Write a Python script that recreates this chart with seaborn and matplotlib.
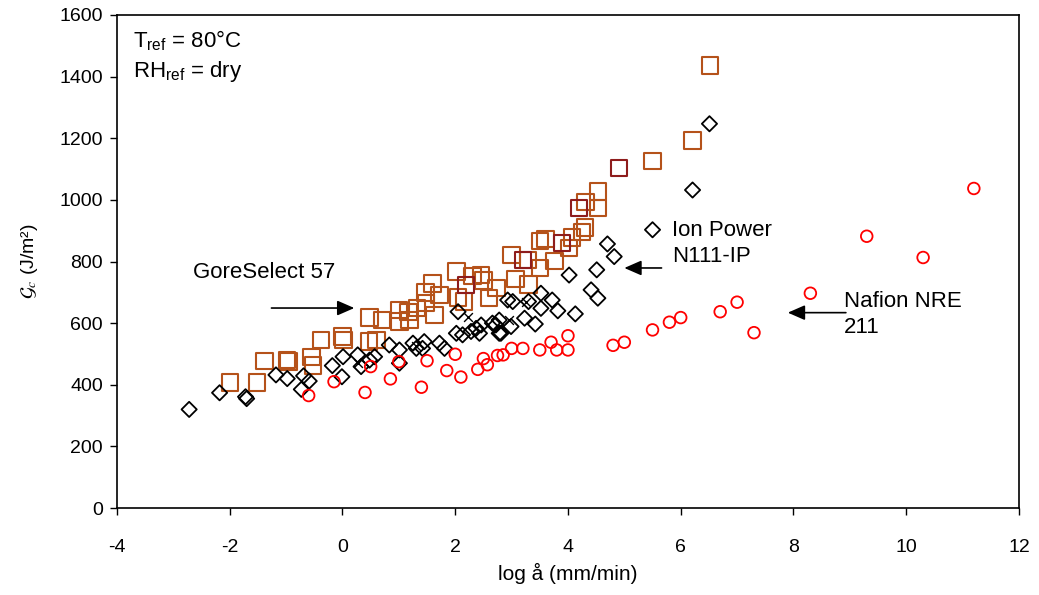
import matplotlib
matplotlib.use("Agg")
import matplotlib.pyplot as plt
import numpy as np
import pandas as pd
import seaborn as sns

# GoreSelect 57 (squares)
gore_x = [-2.0, -1.52, -1.38, -0.98, -0.96, -0.55, -0.52, -0.38, 0.0, 0.02, 0.48, 0.47, 0.6, 0.7,
          1.0, 1.01, 1.17, 1.19, 1.32, 1.47, 1.6, 1.72, 1.48, 1.63, 2.02, 2.05, 2.16, 2.31, 2.46,
          2.5, 2.6, 2.73, 3.0, 3.07, 3.29, 3.3, 3.5, 3.5, 3.6, 3.76, 4.02, 4.07, 4.25, 4.3, 4.31,
          4.53, 4.53, 5.5, 6.21, 6.52]
gore_y = [408, 408, 478, 481, 475, 490, 462, 545, 556, 545, 618, 540, 545, 610,
          643, 605, 637, 610, 650, 700, 729, 692, 665, 627, 767, 683, 670, 753, 756,
          738, 681, 714, 821, 743, 805, 726, 778, 866, 873, 801, 843, 878, 896, 911, 993,
          1027, 973, 1126, 1192, 1436]
gore_dark_x = [2.19, 3.2, 3.89, 4.2, 4.91]
gore_dark_y = [724, 805, 860, 973, 1103]

# Ion Power N111-IP (diamonds)
ion_x = [-2.72, -2.18, -1.72, -1.70, -1.18, -0.98, -0.69, -0.73, -0.59, -0.18, 0.01, -0.01,
         0.27, 0.33, 0.48, 0.57, 0.83, 1.01, 1.01, 1.25, 1.31, 1.45, 1.42, 1.72, 1.81, 2.02,
         2.05, 2.13, 2.28, 2.37, 2.43, 2.46, 2.66, 2.78, 2.78, 2.93, 2.72, 2.81, 2.99, 3.02,
         3.23, 3.30, 3.42, 3.52, 3.52, 3.72, 3.82, 4.02, 4.13, 4.41, 4.51, 4.53, 4.70, 4.82,
         5.50, 6.21, 6.51]
ion_y = [320, 374, 361, 355, 432, 420, 429, 385, 412, 462, 491, 426,
         497, 459, 480, 491, 529, 513, 470, 535, 518, 540, 518, 535, 518, 567,
         637, 562, 573, 583, 567, 594, 600, 567, 610, 675, 594, 567, 589, 670,
         616, 670, 597, 697, 648, 675, 640, 756, 630, 708, 773, 681, 857, 816,
         903, 1032, 1247]

# extra small crosses
cross_x = [0.27, 1.3, 2.22, 2.95, 3.25]
cross_y = [472, 527, 620, 610, 670]

# Nafion NRE 211 (circles)
naf_x = [-0.6, -0.15, 0.4, 0.5, 0.85, 1.0, 1.4, 1.5, 1.85, 2.0, 2.1, 2.4, 2.5, 2.57, 2.75,
         2.85, 3.0, 3.2, 3.5, 3.7, 3.8, 4.0, 4.0, 4.8, 5.0, 5.5, 5.8, 6.0, 6.7, 7.0, 7.3,
         8.3, 9.3, 10.3, 11.2]
naf_y = [365, 410, 375, 459, 419, 475, 392, 478, 446, 499, 425, 450, 485, 465, 495,
         497, 518, 518, 513, 538, 513, 559, 513, 528, 538, 578, 603, 618, 637, 668, 569,
         697, 882, 813, 1037]

sns.set_theme(style="ticks", rc={"axes.edgecolor": "black", "xtick.color": "black",
                                 "ytick.color": "black", "text.color": "black",
                                 "axes.labelcolor": "black"})
plt.rcParams["font.family"] = ["Liberation Sans", "DejaVu Sans"]
plt.rcParams["mathtext.fontset"] = "custom"
plt.rcParams["mathtext.rm"] = "Liberation Sans"
plt.rcParams["mathtext.it"] = "Liberation Sans:italic"
plt.rcParams["axes.unicode_minus"] = False

fig = plt.figure(figsize=(10.39, 5.95), dpi=100)
ax = fig.add_axes([0.1126, 0.1462, 0.8681, 0.8286])

sns.scatterplot(x=gore_x, y=gore_y, marker="s", s=140, facecolor="none",
                edgecolor="#B5521A", linewidth=1.5, ax=ax)
sns.scatterplot(x=gore_dark_x, y=gore_dark_y, marker="s", s=140, facecolor="none",
                edgecolor="#8E1C1C", linewidth=1.5, ax=ax)
sns.scatterplot(x=ion_x, y=ion_y, marker="D", s=60, facecolor="none",
                edgecolor="black", linewidth=1.3, ax=ax)
sns.scatterplot(x=cross_x, y=cross_y, marker="x", s=40, color="black",
                linewidth=1.0, ax=ax)
sns.scatterplot(x=naf_x, y=naf_y, marker="o", s=70, facecolor="none",
                edgecolor="#FF0000", linewidth=1.3, ax=ax)

ax.set_xlim(-4, 12)
ax.set_ylim(0, 1600)
ax.set_xticks(np.arange(-4, 13, 2))
ax.set_yticks(np.arange(0, 1601, 200))
ax.tick_params(labelsize=14, length=5, width=1, direction="out")
ax.tick_params(axis="x", pad=17)
ax.tick_params(axis="y", pad=5)
for sp in ax.spines.values():
    sp.set_visible(True)
    sp.set_linewidth(1.2)

ax.set_xlabel("log å (mm/min)", fontsize=15, labelpad=5)
ax.set_ylabel(r"$\mathcal{G}_c$ (J/m²)", fontsize=14, math_fontfamily="stix", labelpad=14)

ax.text(0.018, 0.935, r"T$_{\rm ref}$ = 80°C", transform=ax.transAxes, fontsize=16, va="baseline")
ax.text(0.018, 0.874, r"RH$_{\rm ref}$ = dry", transform=ax.transAxes, fontsize=16, va="baseline")

arrow = dict(arrowstyle="-|>,head_length=0.8,head_width=0.35", color="black", lw=1.2,
             shrinkA=0, shrinkB=0, mutation_scale=13)
ax.annotate("", xy=(0.21, 649), xytext=(-1.26, 649), arrowprops=arrow)
ax.annotate("", xy=(5.0, 779), xytext=(5.66, 779), arrowprops=arrow)
ax.annotate("", xy=(7.9, 634), xytext=(8.93, 634), arrowprops=arrow)

ax.text(-2.66, 763, "GoreSelect 57", fontsize=16, va="center", ha="left")
ax.text(5.85, 782, "Ion Power\nN111-IP", fontsize=16, va="bottom", ha="left", linespacing=1.3)
ax.text(8.9, 552, "Nafion NRE\n211", fontsize=16, va="bottom", ha="left", linespacing=1.3)

fig.savefig("out.png", dpi=100)
